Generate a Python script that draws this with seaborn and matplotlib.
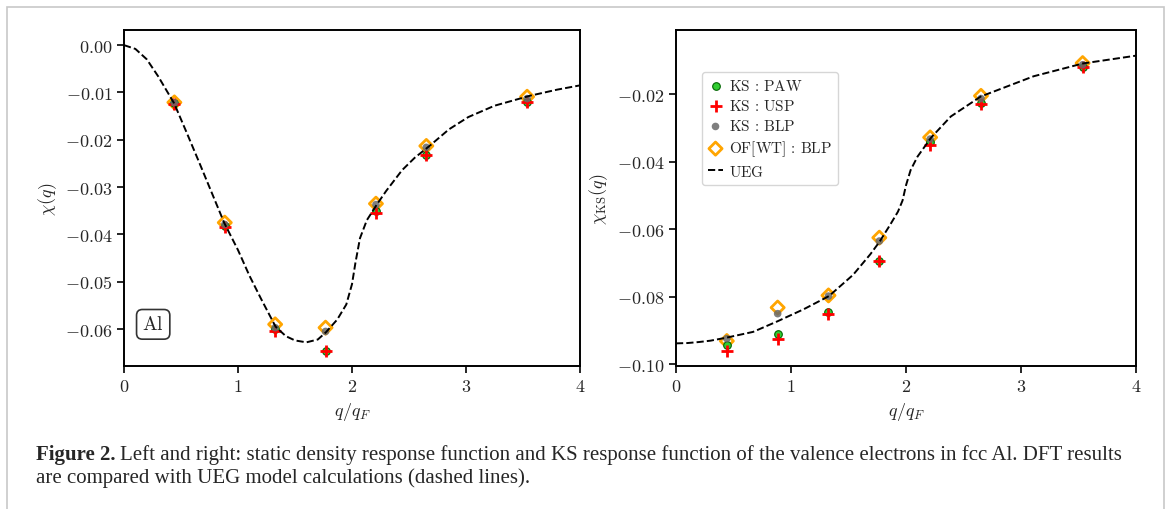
import numpy as np
import pandas as pd
import matplotlib
matplotlib.use('Agg')
import matplotlib.pyplot as plt
from matplotlib.ticker import FuncFormatter, MultipleLocator
from matplotlib.patches import Rectangle
import seaborn as sns

import warnings
warnings.filterwarnings("ignore")

sns.set_style('ticks')
plt.rcParams['mathtext.fontset'] = 'cm'
plt.rcParams['font.family'] = ['Liberation Serif', 'DejaVu Serif']
plt.rcParams['axes.linewidth'] = 1.4
plt.rcParams['xtick.major.width'] = 1.4
plt.rcParams['ytick.major.width'] = 1.4
plt.rcParams['xtick.major.size'] = 5
plt.rcParams['ytick.major.size'] = 5
plt.rcParams['axes.edgecolor'] = 'black'

#%%
# data
q = [0.442, 0.884, 1.326, 1.768, 2.210, 2.652, 3.536]

# left: chi(q)
chi_paw = [-0.0123, -0.0382, -0.0600, -0.0646, -0.0351, -0.0232, -0.0120]
chi_usp = [-0.0124, -0.0384, -0.0605, -0.0646, -0.0354, -0.0232, -0.0121]
chi_blp = [-0.0122, -0.0379, -0.0597, -0.0605, -0.0337, -0.0216, -0.0113]
chi_of = [-0.0121, -0.0375, -0.0590, -0.0597, -0.0335, -0.0213, -0.0109]

q_ueg_l = [0.0, 0.1, 0.2, 0.3, 0.44, 0.55, 0.66, 0.77, 0.88, 1.0, 1.1, 1.2,
           1.33, 1.42, 1.5, 1.6, 1.7, 1.77, 1.87, 1.95, 2.0, 2.03, 2.07, 2.13,
           2.22, 2.3, 2.44, 2.55, 2.68, 2.85, 3.02, 3.25, 3.56, 3.8, 4.0]
chi_ueg_l = [0.0, -0.0008, -0.0030, -0.0066, -0.0123, -0.0185, -0.0248,
             -0.0312, -0.0376, -0.0433, -0.0487, -0.0535, -0.0595, -0.0615,
             -0.0624, -0.0628, -0.0622, -0.0607, -0.0580, -0.0548, -0.0505,
             -0.0460, -0.0408, -0.0370, -0.0336, -0.0308, -0.0264, -0.0238,
             -0.0213, -0.0178, -0.0152, -0.0128, -0.0107, -0.0094, -0.0085]

# right: chi_KS(q)
ks_paw = [-0.0943, -0.0911, -0.0844, -0.0694, -0.0343, -0.0225, -0.0119]
ks_usp = [-0.0960, -0.0924, -0.0850, -0.0694, -0.0350, -0.0228, -0.0121]
ks_blp = [-0.0924, -0.0850, -0.0798, -0.0635, -0.0333, -0.0213, -0.0113]
ks_of = [-0.0931, -0.0832, -0.0796, -0.0625, -0.0328, -0.0205, -0.0108]

q_ueg_r = [0.0, 0.1, 0.2, 0.3, 0.44, 0.67, 0.88, 1.11, 1.33, 1.54, 1.69, 1.77,
           1.86, 1.93, 1.97, 2.0, 2.04, 2.1, 2.22, 2.39, 2.65, 3.11, 3.54, 4.0]
chi_ueg_r = [-0.0938, -0.0937, -0.0934, -0.0930, -0.0921, -0.0904, -0.0873,
             -0.0837, -0.0798, -0.0735, -0.0674, -0.0637, -0.0588, -0.0548,
             -0.0515, -0.0470, -0.0425, -0.0385, -0.0328, -0.0266, -0.0207,
             -0.0147, -0.0109, -0.0086]

labels = [r'$\mathrm{KS}\,:\,\mathrm{PAW}$', r'$\mathrm{KS}\,:\,\mathrm{USP}$',
          r'$\mathrm{KS}\,:\,\mathrm{BLP}$', r'$\mathrm{OF[WT]}\,:\,\mathrm{BLP}$',
          r'$\mathrm{UEG}$']

#%%
fig = plt.figure(figsize=(11.76, 5.10), dpi=100)
ax1 = fig.add_axes([124/1176, 1-367/510, 456/1176, 336/510])
ax2 = fig.add_axes([676/1176, 1-367/510, 460/1176, 336/510])


def draw(ax, paw, usp, blp, of, qu, ueg):
    sns.scatterplot(x=q, y=paw, ax=ax, marker='o', s=30, color='limegreen',
                    edgecolor='darkgreen', linewidth=0.8, label=labels[0], zorder=3)
    sns.scatterplot(x=q, y=usp, ax=ax, marker='+', s=70, color='red',
                    linewidth=2, label=labels[1], zorder=4)
    sns.scatterplot(x=q, y=blp, ax=ax, marker='o', s=30, color='dimgray',
                    edgecolor='none', alpha=0.85, label=labels[2], zorder=5)
    sns.scatterplot(x=q, y=of, ax=ax, marker='D', s=45, facecolor='none',
                    edgecolor='orange', linewidth=2, label=labels[3], zorder=2)
    sns.lineplot(x=qu, y=ueg, ax=ax, sort=False, estimator=None, color='black',
                 linestyle='--', linewidth=1.4, label=labels[4], zorder=6)
    ax.set_xlim(0, 4)
    ax.xaxis.set_major_locator(MultipleLocator(1))
    ax.xaxis.set_major_formatter(FuncFormatter(lambda v, p: f'${v:.0f}$'))
    ax.yaxis.set_major_formatter(FuncFormatter(lambda v, p: f'${v:.2f}$'))
    ax.tick_params(labelsize=13)
    ax.set_xlabel(r'$q/q_F$', fontsize=13)


draw(ax1, chi_paw, chi_usp, chi_blp, chi_of, q_ueg_l, chi_ueg_l)
draw(ax2, ks_paw, ks_usp, ks_blp, ks_of, q_ueg_r, chi_ueg_r)

ax1.set_ylim(-0.0678, 0.0032)
ax1.yaxis.set_major_locator(MultipleLocator(0.01))
ax1.set_ylabel(r'$\chi(q)$', fontsize=13)
ax1.get_legend().remove()
ax1.text(0.064, 0.124, r'$\mathrm{Al}$', transform=ax1.transAxes, fontsize=14,
         ha='center', va='center',
         bbox=dict(boxstyle='round,pad=0.3', facecolor='white', edgecolor='#333333', linewidth=1.2))

ax2.set_ylim(-0.1005, -0.001)
ax2.yaxis.set_major_locator(MultipleLocator(0.02))
ax2.set_ylabel(r'$\chi_{\mathrm{KS}}(q)$', fontsize=13)
ax2.legend(loc='upper left', bbox_to_anchor=(0.056, 0.876), borderaxespad=0,
           fontsize=11, handlelength=1.0, handletextpad=0.4, labelspacing=0.35,
           frameon=True, edgecolor='#cccccc', fancybox=True)

for ax in (ax1, ax2):
    ax.yaxis.set_label_coords(-0.143, 0.5)
    ax.xaxis.set_label_coords(0.5, -0.10)

#%%
# caption and page frame
fig.add_artist(Rectangle((7/1176, -0.1), (1164-7)/1176, 1.092 - 4/510,
                         transform=fig.transFigure, facecolor='none',
                         edgecolor='#c8c8c8', linewidth=1.2, clip_on=False))

t1 = fig.text(36/1176, 1-455/510, 'Figure 2.', fontsize=15, weight='bold', va='center')
fig.canvas.draw()
bb = t1.get_window_extent(fig.canvas.get_renderer())
fig.text((bb.x1 + 4)/1176, 1-455/510,
         'Left and right: static density response function and KS response function '
         'of the valence electrons in fcc Al. DFT results', fontsize=15, va='center')
fig.text(36/1176, 1-478/510,
         'are compared with UEG model calculations (dashed lines).', fontsize=15, va='center')

fig.savefig('out.png', dpi=100)
